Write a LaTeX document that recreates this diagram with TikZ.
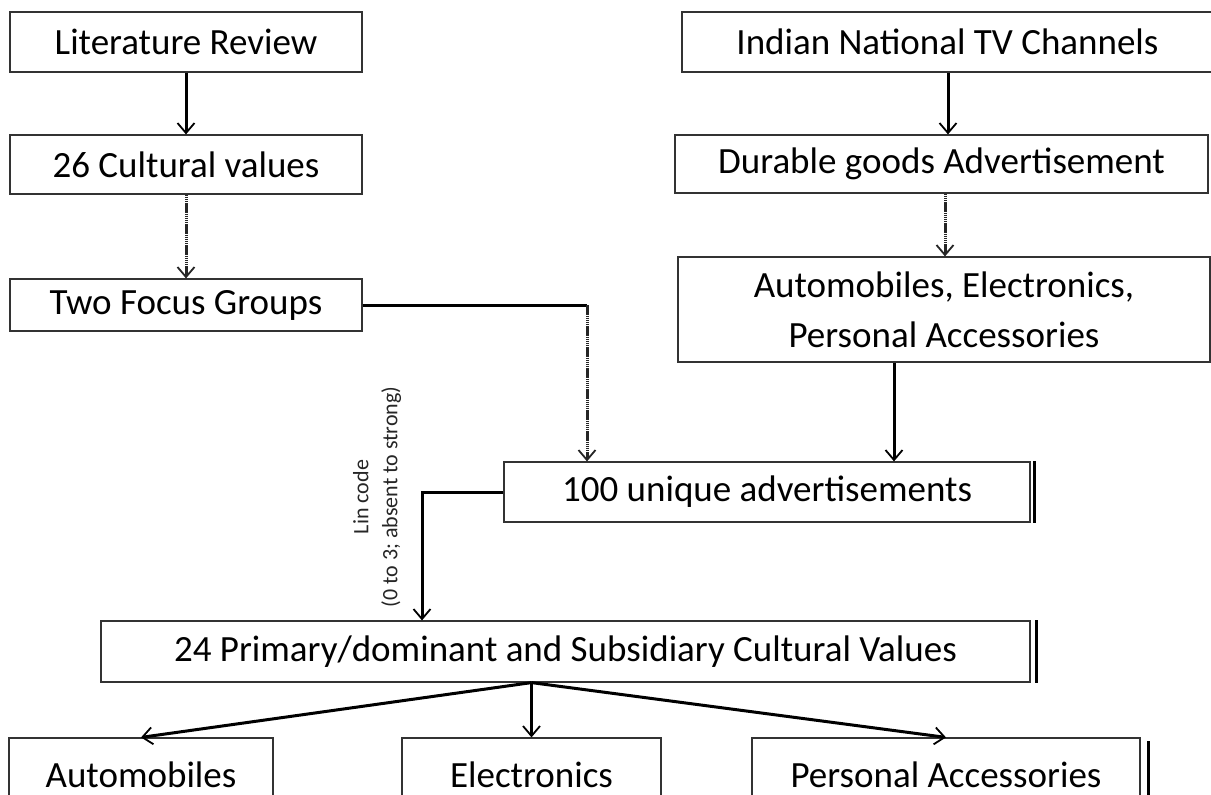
\documentclass[tikz,border=0pt]{standalone}
\usepackage{fontspec}
\setmainfont{Carlito}
\usetikzlibrary{arrows.meta}
\begin{document}
\begin{tikzpicture}[x=1pt,y=-1pt,
  box/.style={draw=black!80,line width=1.2pt,fill=white,inner sep=0pt,align=center,
    font=\fontsize{37}{50}\selectfont},
  conn/.style={line width=3pt,draw=black},
  dotline/.style={line width=3pt,draw=black!85,dash pattern=on 1.5pt off 0.6pt},
  tip/.style={-{Straight Barb[length=10pt,width=17pt,line width=1.8pt]}},
  rbar/.style={line width=3pt,draw=black}]
\useasboundingbox (0,0) rectangle (1211,795);
\clip (0,0) rectangle (1211,795);
\fill[white] (0,0) rectangle (1211,795);

% left column
\node[box,minimum width=352pt,minimum height=60pt] (lit) at (186,42) {Literature Review};
\node[box,minimum width=352pt,minimum height=59pt] (cv) at (186,164.5) {26 Cultural values};
\node[box,minimum width=352pt,minimum height=52pt] (fg) at (186,305) {Two Focus Groups};

% right column
\node[box,minimum width=531pt,minimum height=60pt] (tv) at (947.5,42) {Indian National TV Channels};
\node[box,minimum width=533pt,minimum height=58pt] (dg) at (941.5,164) {Durable goods Advertisement};
\node[box,minimum width=532pt,minimum height=105pt] (ae) at (944,309.5) {Automobiles, Electronics,\\Personal Accessories};

% middle
\node[box,minimum width=526pt,minimum height=60pt] (uq) at (767,492) {100 unique advertisements};
\node[box,minimum width=929pt,minimum height=61pt] (pv) at (565.5,651.5) {24 Primary/dominant and Subsidiary Cultural Values};

% bottom
\node[box,minimum width=264pt,minimum height=74pt] (au) at (141,775) {Automobiles};
\node[box,minimum width=259pt,minimum height=74pt] (el) at (531.5,775) {Electronics};
\node[box,minimum width=388pt,minimum height=74pt] (pa) at (946,775) {Personal Accessories};

% right-side bars
\draw[rbar] ([xshift=4pt]uq.north east) -- ([xshift=4pt]uq.south east);
\draw[rbar] ([xshift=6pt]pv.north east) -- ([xshift=6pt]pv.south east);
\draw[rbar] ([xshift=8pt,yshift=-4pt]pa.north east) -- ([xshift=8pt]pa.south east);

% helper coordinates
\coordinate (x587) at (587,0);
\coordinate (x894) at (894,0);
\coordinate (x422) at (422,0);
\coordinate (x948) at (948,0);
\coordinate (x945) at (945,0);

% connectors
\draw[conn,tip] (lit.south) -- (cv.north);
\draw[dotline,tip] (cv.south) -- (fg.north);
\draw[conn,tip] (tv.south -| x948) -- (dg.north -| x948);
\draw[dotline,tip] (dg.south -| x945) -- (ae.north -| x945);
\draw[conn,tip] (ae.south -| x894) -- (uq.north -| x894);
\draw[conn] (fg.east) -- (fg.east -| x587);
\draw[dotline,tip] (fg.east -| x587) -- (uq.north -| x587);
\draw[conn,tip] (uq.west) -- (uq.west -| x422) -- (pv.north -| x422);

\coordinate (fan) at (pv.south -| el.north);
\draw[conn,tip] (fan) -- (au.north);
\draw[conn,tip] (fan) -- (el.north);
\draw[conn,tip] (fan) -- (pa.north);

% rotated label
\node[rotate=90,align=center,inner sep=0pt,font=\fontsize{22}{29}\selectfont,text=black!85] (lbl) at (377,497)
  {Lin code\\(0 to 3; absent to strong)};
\end{tikzpicture}
\end{document}
